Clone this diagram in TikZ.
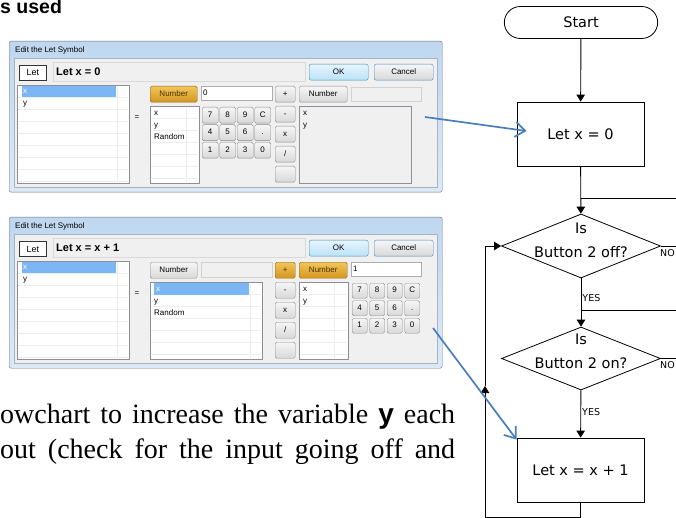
\documentclass[tikz,border=0pt]{standalone}
\usepackage{fontspec}
\setmainfont{Liberation Serif}
\newfontfamily\uifont{Liberation Sans}
\newfontfamily\chartfont{DejaVu Sans}
\usetikzlibrary{positioning, calc, arrows.meta, shapes.geometric, shapes.misc}
\definecolor{arrowblue}{HTML}{4A7EBB}
\definecolor{wintop}{HTML}{BFD7F0}
\definecolor{winbot}{HTML}{DCE9F7}
\definecolor{winedge}{HTML}{6A717A}
\definecolor{clientbg}{HTML}{F0F0F0}
\definecolor{clientedge}{HTML}{A3B4C6}
\definecolor{btntop}{HTML}{F6F6F6}
\definecolor{btnbot}{HTML}{D8D8D8}
\definecolor{btnedge}{HTML}{8A8A8A}
\definecolor{goldtop}{HTML}{F2C55C}
\definecolor{goldbot}{HTML}{D4951E}
\definecolor{goldedge}{HTML}{8C6414}
\definecolor{golddark}{HTML}{4A3000}
\definecolor{oktop}{HTML}{E6F4FC}
\definecolor{okbot}{HTML}{BCE2F8}
\definecolor{okedge}{HTML}{3C8DBC}
\definecolor{fieldedge}{HTML}{ABADB3}
\definecolor{listedge}{HTML}{8C9096}
\definecolor{selblue}{HTML}{7DB6F5}
\tikzset{
	wh/.style 2 args={anchor=north west, minimum width=#1pt, minimum height=#2pt, inner sep=0pt},
	uitext/.style={font=\uifont\fontsize{8}{9}\selectfont, inner sep=0pt, text height=5.8pt, text depth=1.6pt},
	win/.style={draw=winedge, top color=wintop, bottom color=winbot, rounded corners=2pt},
	client/.style={draw=clientedge, fill=clientbg},
	letbox/.style={draw=black!80, line width=0.9pt, fill=white, font=\uifont\fontsize{9}{10}\selectfont},
	exprbox/.style={draw=black!15, fill=clientbg},
	exprtext/.style={font=\uifont\bfseries\fontsize{11}{12}\selectfont, inner sep=0pt},
	btn/.style={uitext, draw=btnedge, rounded corners=1.5pt, top color=btntop, bottom color=btnbot},
	btnon/.style={uitext, draw=goldedge, rounded corners=1.5pt, top color=goldtop, bottom color=goldbot, text=golddark},
	okbtn/.style={uitext, draw=okedge, rounded corners=2pt, top color=oktop, bottom color=okbot},
	cancelbtn/.style={btn, draw=okedge, rounded corners=2pt},
	field/.style={draw=fieldedge, fill=white},
	dimfield/.style={draw=black!18, fill=clientbg},
	listbox/.style={draw=listedge, fill=white},
	dimlist/.style={draw=listedge, fill=clientbg},
	gridline/.style={draw=black!7, line width=0.6pt}
}
\tikzset{
	chart/.style={font=\chartfont\fontsize{14.5}{24}\selectfont},
	terminal/.style={chart, draw, rounded rectangle, minimum width=160pt, minimum height=32pt, line width=0.8pt},
	process/.style={chart, draw, rectangle, minimum width=127pt, minimum height=64pt, line width=0.8pt},
	decision/.style={draw, diamond, minimum width=159pt, minimum height=64pt, inner sep=0pt, line width=0.8pt},
	chartlabel/.style={chart, align=center, inner sep=0pt},
	yesno/.style={font=\chartfont\fontsize{9.5}{10}\selectfont, inner sep=1pt},
	flow/.style={line width=0.9pt, -{Triangle[length=7pt,width=8.5pt]}},
	wire/.style={line width=0.9pt},
	pointer/.style={draw=arrowblue, line width=1.7pt, -{Straight Barb[length=10pt,width=15pt]}},
	bodytext/.style={font=\fontsize{28}{34}\selectfont, inner sep=0pt}
}
% frame, top row and left list of the let dialog
\newcommand{\letdialog}[1]{%
  \node[win, wh={433}{151}] (win) at (9,41) {};
  \node[client, wh={423}{129}] (client) at (14,58) {};
  \node[uitext, anchor=west] (title) at (15,50) {Edit the Let Symbol};
  \node[letbox, wh={27}{15}] (let) at (19,65) {Let};
  \node[exprbox, wh={252}{19}] (expr) at (53,62) {};
  \node[exprtext, right=3pt of expr.west] (exprtxt) {#1};
  \node[okbtn, wh={59}{16}] (ok) at (309,64) {OK};
  \node[cancelbtn, wh={59}{16}] (cancel) at (374,64) {Cancel};
  \node[listbox, wh={112}{98}] (vars) at (17,85) {};
  \foreach \r in {97,109,...,181}
    \draw[gridline] (18,\r) -- (128,\r);
  \draw[gridline] (117,86) -- (117,182);
  \fill[selblue] (22,86) rectangle (116,97);
  \node[uitext, text=white, anchor=west] (varx) at (23,91.5) {x};
  \node[uitext, anchor=west] (vary) at (23,103.5) {y};
  \node[uitext] (eq) at (137,117) {=};
  \foreach \y/\v [count=\k] in {106/-, 126/x, 146/{/}, 166/{}}
    \node[btn, wh={20}{16}] (op\k) at (275,\y) {\v};
}
\newcommand{\keypad}[3]{%
  \foreach \c/\r/\v [count=\k] in {0/0/7, 1/0/8, 2/0/9, 3/0/C, 0/1/4, 1/1/5, 2/1/6, 3/1/., 0/2/1, 1/2/2, 2/2/3, 3/2/0}
    \node[btn, wh={#3}{#3}] (key\k) at (#1+\c*17.5, #2+\r*17.5) {\v};
}

\begin{document}
\begin{tikzpicture}[x=1pt, y=-1pt]
  \useasboundingbox (0,0) rectangle (676,518);
  \clip (0,0) rectangle (676,518);
  \node[anchor=base west, inner sep=0pt, font=\uifont\bfseries\fontsize{19.5}{20}\selectfont] (head) at (0,14) {s used};

  % first dialog
  \begin{scope}[name prefix=a-]
    \letdialog{Let x = 0}
    \node[btnon, wh={47}{16}] (num) at (150,86) {Number};
    \node[field, wh={71}{14}] (numval) at (201,86) {};
    \node[uitext, right=2pt of numval.west] (numtxt) {0};
    \node[btn, wh={20}{16}] (plus) at (275,86) {+};
    \node[btn, wh={48}{16}] (num2) at (299,86) {Number};
    \node[dimfield, wh={70}{14}] (numval2) at (351,87) {};
    \node[listbox, wh={49}{77}] (src) at (150,106) {};
    \foreach \r in {118,130,...,178}
      \draw[gridline] (151,\r) -- (198,\r);
    \draw[gridline] (186,107) -- (186,182);
    \foreach \y/\v [count=\k] in {113/x, 125/y, 137/Random}
      \node[uitext, anchor=west] (src\k) at (154,\y) {\v};
    \keypad{202}{107}{16}
    \node[dimlist, wh={112}{77}] (dst) at (299,106) {};
    \foreach \y/\v [count=\k] in {113/x, 125/y}
      \node[uitext, anchor=west] (dst\k) at (303,\y) {\v};
    \coordinate (tail) at (425,117);
  \end{scope}

  % second dialog
  \begin{scope}[yshift=-176pt, name prefix=b-]
    \letdialog{Let x = x + 1}
    \node[btn, wh={47}{16}] (num) at (150,86) {Number};
    \node[dimfield, wh={71}{15}] (numval) at (201,86) {};
    \node[btnon, wh={20}{16}] (plus) at (275,86) {+};
    \node[btnon, wh={48}{16}] (num2) at (299,86) {Number};
    \node[field, wh={70}{14}] (numval2) at (351,86) {};
    \node[uitext, right=2pt of numval2.west] (numtxt) {1};
    \node[listbox, wh={112}{77}] (src) at (150,106) {};
    \foreach \r in {118,130,...,178}
      \draw[gridline] (151,\r) -- (261,\r);
    \draw[gridline] (250,107) -- (250,182);
    \fill[selblue] (154,107) rectangle (249,119);
    \node[uitext, text=white, anchor=west] (src1) at (156,113) {x};
    \foreach \y/\v [count=\k from 2] in {125/y, 137/Random}
      \node[uitext, anchor=west] (src\k) at (154,\y) {\v};
    \node[listbox, wh={49}{77}] (dst) at (299,106) {};
    \foreach \r in {118,130,...,178}
      \draw[gridline] (300,\r) -- (347,\r);
    \draw[gridline] (334,107) -- (334,182);
    \foreach \y/\v [count=\k] in {113/x, 125/y}
      \node[uitext, anchor=west] (dst\k) at (303,\y) {\v};
    \keypad{352}{107}{15}
    \coordinate (tail) at (433,152);
  \end{scope}

  % body text
  \node[bodytext, anchor=base west] (line1) at (0,423) {\makebox[455pt][s]{owchart to increase the variable {\uifont\bfseries y} each}};
  \node[bodytext, anchor=base west] (line2) at (0,458) {\makebox[455pt][s]{out (check for the input going off and}};

  % flowchart
  \node[terminal] (start) at (581,22.5) {Start};
  \node[process] (init) at (580.5,134) {Let x = 0};
  \node[decision] (offq) at (581,246) {};
  \node[chartlabel, yshift=6pt] (offqt) at (offq) {Is\\Button 2 off?};
  \node[decision, minimum height=63pt] (onq) at (581,358.5) {};
  \node[chartlabel, yshift=7pt] (onqt) at (onq) {Is\\Button 2 on?};
  \node[process] (incr) at (580.5,470) {Let x = x + 1};
  \draw[flow] (start) -- (init);
  \draw[flow] (init) -- (offq);
  \draw[flow] (offq) -- node[yesno, pos=0.4, anchor=west] (yes1) {YES} (onq);
  \draw[flow] (onq) -- node[yesno, pos=0.46, anchor=west] (yes2) {YES} (incr);
  % loop back to the first test
  \coordinate (back) at (485,517);
  \coordinate (backmid) at (485,386);
  \draw[flow] (incr.south) |- (back) -- (backmid);
  \draw[flow] (backmid) |- (offq.west);
  % no branches leave the page
  \coordinate (offno) at (690,246);
  \coordinate (offret) at (690,198);
  \coordinate (onno) at (690,358.5);
  \coordinate (onret) at (690,310);
  \draw[wire] (offq.east) -- (offno);
  \draw[wire] (offret) -- (offret -| offq.north);
  \draw[wire] (onq.east) -- (onno);
  \draw[wire] (onret) -- (onret -| onq.north);
  \node[yesno, anchor=north east] (offnolbl) at (676,248) {NO};
  \node[yesno, anchor=north east] (onnolbl) at (676,360) {NO};

  % pointers from dialogs
  \draw[pointer] (a-tail) -- ([xshift=10pt, yshift=3pt]init.west);
  \draw[pointer] (b-tail) -- ([yshift=-2pt]incr.north west);
\end{tikzpicture}
\end{document}
